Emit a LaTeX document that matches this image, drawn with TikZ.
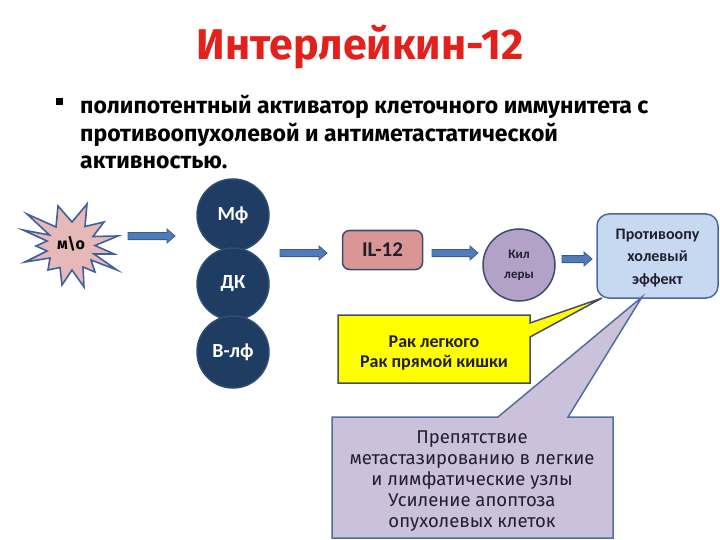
\documentclass[tikz,border=0pt]{standalone}
\usepackage{fontspec}
\setmainfont{Fira Sans}
\newfontfamily\calib{Carlito}
\usetikzlibrary{calc}
\definecolor{titlered}{HTML}{E2201C}
\definecolor{navy}{HTML}{1F3D63}
\definecolor{navyline}{HTML}{2E4D75}
\definecolor{arrowfill}{HTML}{4F7BBD}
\definecolor{arrowline}{HTML}{385D8A}
\definecolor{ilfill}{HTML}{D99694}
\definecolor{boxline}{HTML}{3B4E6E}
\definecolor{killfill}{HTML}{B3A2C7}
\definecolor{efffill}{HTML}{C6D9F1}
\definecolor{effline}{HTML}{4A6B9A}
\definecolor{yel}{HTML}{FFFF00}
\definecolor{yelline}{HTML}{4A4A6A}
\definecolor{lavfill}{HTML}{CCC1DA}
\definecolor{lavline}{HTML}{4F6FA0}
\definecolor{burstfill}{HTML}{E6B9B8}
\definecolor{burstline}{HTML}{3F5F9F}
\definecolor{darktext}{HTML}{1F1F2F}
\newcommand\barrow[2]{%
  \filldraw[fill=arrowfill, draw=arrowline, line width=0.8pt]
    let \p1=(#1), \p2=(#2) in
    (\x1,{\y1+3.6pt}) -- ({\x2-8pt},{\y1+3.6pt}) -- ({\x2-8pt},{\y1+7pt}) --
    (\x2,\y1) -- ({\x2-8pt},{\y1-7pt}) -- ({\x2-8pt},{\y1-3.6pt}) --
    (\x1,{\y1-3.6pt}) -- cycle;}
\begin{document}
\begin{tikzpicture}[x=1pt,y=-1pt,
  cell/.style={circle, fill=navy, draw=navyline, line width=1.5pt, minimum size=72pt,
    inner sep=0pt, text=white, font=\calib\bfseries\fontsize{20}{22}\selectfont},
  bodyline/.style={anchor=base west, inner sep=0pt, font=\bfseries\fontsize{23}{28}\selectfont},
  labeltext/.style={align=center, inner sep=0pt, text=darktext}
]
\useasboundingbox (0,0) rectangle (720,540);
% title
\node[text=titlered, font=\bfseries\fontsize{43}{50}\selectfont] (title) at (360,47) {Интерлейкин-12};
% bullet
\node[fill=black, minimum size=7pt, inner sep=0pt] (bul) at (59,102) {};
\node[bodyline] (bl1) at (80,114) {полипотентный активатор клеточного иммунитета с};
\node[bodyline] (bl2) at (80,142) {противоопухолевой и антиметастатической};
\node[bodyline] (bl3) at (80,169) {активностью.};
% starburst
\begin{scope}[shift={(71,246)}]
\filldraw[fill=burstfill, draw=burstline, line width=1.6pt, line join=miter]
  (-44,-32) -- (-15,-19) -- (-13,-40) -- (1,-24) -- (16,-42) -- (14,-19.5) --
  (33,-24) -- (22,-9.5) -- (47,-10) -- (24,-0.5) -- (43,8) -- (23,8) --
  (46,24) -- (20,14) -- (24,26) -- (12,21) -- (13,41) -- (1,24) --
  (-9,39) -- (-11,21.5) -- (-23,24) -- (-21,12) -- (-46,16) -- (-24,5) --
  (-35,0) -- (-24,-5) -- (-48,-16) -- (-21.5,-11) -- cycle;
\node[inner sep=0pt, font=\bfseries\fontsize{16}{18}\selectfont] (mo) at (0,-2) {м\textbackslash о};
\end{scope}
% circles
\node[cell] (mf) at (233,215) {Мф};
\node[cell] (dk) at (233,284) {ДК};
\node[cell] (bl) at (233,352) {В-лф};
% IL-12
\node[rounded corners=7pt, fill=ilfill, draw=boxline, line width=1.5pt, minimum width=80pt,
  minimum height=39pt, inner sep=0pt, text=darktext, font=\calib\bfseries\fontsize{21}{22}\selectfont] (il) at (382.5,250) {IL-12};
% killers
\node[circle, fill=killfill, draw=boxline, line width=1.5pt, minimum size=72pt, inner sep=0pt,
  labeltext, font=\calib\bfseries\fontsize{13}{20}\selectfont] (kil) at (519,265) {Кил\\леры};
% effect box
\node[rounded corners=12pt, fill=efffill, draw=effline, line width=1.5pt, minimum width=121pt,
  minimum height=84pt, inner sep=0pt, text=darktext, font=\calib\bfseries\fontsize{16}{22.5}\selectfont] (eff) at (657.5,256) {};
\node[labeltext, font=\calib\bfseries\fontsize{16}{22.5}\selectfont] (efft) at (657.5,258) {Противоопу\\холевый\\эффект};
% arrows
\coordinate (a1s) at (128,236); \coordinate (a1e) at (175,236);
\coordinate (a2s) at (280,253); \coordinate (a2e) at (327,253);
\coordinate (a3s) at (432,253); \coordinate (a3e) at (478,253);
\coordinate (a4s) at (562,259); \coordinate (a4e) at (592,259);
\barrow{a1s}{a1e}
\barrow{a2s}{a2e}
\barrow{a3s}{a3e}
\barrow{a4s}{a4e}
% yellow callout
\coordinate (ytip) at (602,298);
\filldraw[fill=yel, draw=yelline, line width=1.5pt, line join=miter]
  (338,315) -- (530,315) -- (530,323) -- (ytip) -- (530,337) -- (530,383) -- (338,383) -- cycle;
\node[labeltext, font=\calib\bfseries\fontsize{18}{20}\selectfont] (rak) at (434,353) {Рак легкого\\Рак прямой кишки};
% lavender callout
\coordinate (ltip) at (642,297);
\filldraw[fill=lavfill, draw=lavline, line width=1.5pt, line join=miter]
  (332,417) -- (498,417) -- (ltip) -- (568,417) -- (613,417) -- (613,538) -- (332,538) -- cycle;
\node[labeltext, font=\fontsize{18.5}{21.2}\selectfont] (prep) at (472,481)
  {Препятствие\\метастазированию в легкие\\и лимфатические узлы\\Усиление апоптоза\\опухолевых клеток};
\end{tikzpicture}
\end{document}
